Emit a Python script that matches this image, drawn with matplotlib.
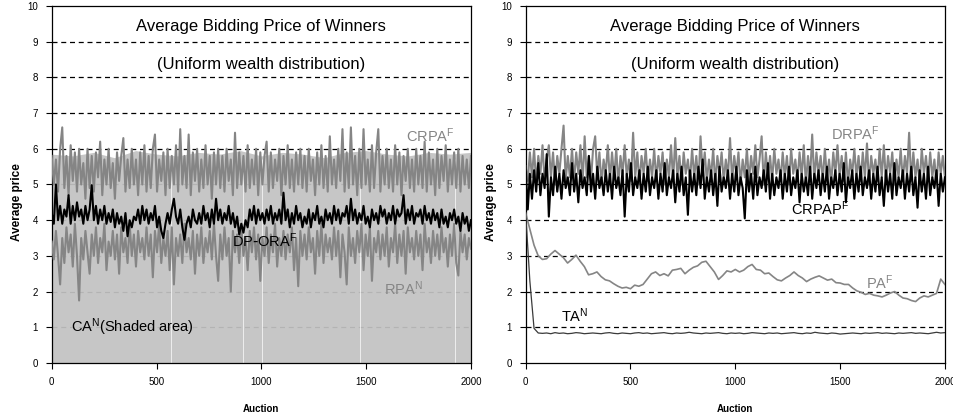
import matplotlib
matplotlib.use('Agg')
import matplotlib.pyplot as plt
import numpy as np

plt.rcParams['font.family'] = ['Liberation Sans', 'DejaVu Sans']

# ---- left panel: CA / CRPA / DP-ORA / RPA ----
ca_level = [5.85, 5.8, 5.9, 5.75, 5.95, 5.85, 5.8, 5.9, 5.85, 5.95, 5.8,
            5.9, 5.85, 5.75, 5.9, 5.95, 5.85, 5.8, 5.9, 5.85, 5.9]
ca_gaps = [570, 913, 1005, 1472, 1924]

crpa = [5.8, 5.0, 5.7, 4.8, 6.0, 6.6, 4.9, 5.8, 4.7, 6.1, 5.1, 5.9, 4.8, 6.0, 5.0, 5.6, 4.6, 6.0, 4.9, 5.8,
        4.8, 5.9, 5.2, 6.2, 4.7, 5.7, 5.0, 6.0, 4.9, 5.6, 4.6, 5.9, 5.1, 5.8, 6.3, 4.8, 5.7, 4.9, 6.0, 5.0,
        5.7, 4.7, 5.9, 5.0, 6.1, 4.8, 5.8, 4.9, 6.0, 6.4, 4.8, 5.7, 5.1, 5.9, 4.7, 6.0, 4.9, 5.8, 5.0, 6.1,
        4.8, 6.55, 5.0, 5.8, 4.9, 6.4, 4.7, 5.9, 5.1, 6.0, 4.8, 5.7, 4.9, 6.1, 5.0, 5.8, 4.6, 5.9, 5.0, 6.0,
        4.9, 5.8, 4.8, 6.0, 5.1, 5.7, 4.7, 6.45, 4.9, 5.9, 5.0, 5.8, 4.8, 6.1, 4.9, 5.7, 5.0, 6.0, 4.7, 5.9,
        5.0, 5.8, 6.2, 4.8, 5.9, 4.9, 5.7, 5.1, 6.0, 4.7, 5.8, 5.0, 6.1, 4.9, 5.7, 4.8, 5.9, 5.0, 6.0, 4.9,
        5.8, 4.8, 6.0, 5.1, 5.7, 4.7, 5.9, 5.0, 6.1, 4.9, 5.8, 4.8, 6.35, 5.0, 5.7, 4.9, 6.0, 5.1, 6.55, 4.8,
        5.9, 4.9, 6.6, 5.0, 5.8, 4.7, 6.0, 4.9, 6.55, 5.0, 5.7, 4.8, 6.1, 4.9, 5.9, 6.55, 4.8, 5.8, 5.0, 6.0,
        4.9, 5.7, 4.8, 6.1, 5.0, 5.9, 4.7, 5.8, 5.1, 6.0, 4.9, 5.7, 4.8, 6.0, 5.0, 5.8, 4.9, 6.2, 4.8, 5.9,
        5.0, 5.7, 4.7, 6.0, 4.9, 5.8, 5.1, 6.1, 4.8, 5.7, 5.0, 5.9, 4.9, 6.0, 4.8, 5.8, 5.0, 5.7, 4.9, 5.8]

dp_ora = [4.2, 3.9, 5.0, 4.0, 4.4, 3.9, 4.3, 4.1, 4.7, 3.9, 4.4, 4.0, 4.5, 4.1, 4.3, 3.9, 4.4, 4.0, 4.3, 4.98,
          4.0, 4.4, 3.9, 4.3, 4.0, 4.4, 3.9, 4.2, 3.95, 4.3, 3.8, 4.2, 3.9, 4.1, 3.7, 4.2, 3.55, 4.0, 3.8, 4.1,
          4.0, 4.3, 3.9, 4.4, 4.0, 4.3, 3.9, 4.2, 4.0, 4.4, 3.8, 4.1, 3.7, 3.5, 3.9, 4.2, 3.9, 4.3, 4.6, 4.1,
          3.9, 4.3, 3.8, 3.45, 3.9, 4.1, 3.8, 4.3, 4.0, 3.9, 4.2, 3.9, 4.4, 4.0, 4.2, 3.8, 4.3, 3.9, 4.6, 4.0,
          4.3, 3.9, 4.2, 4.0, 4.4, 3.9, 4.2, 3.8, 4.1, 3.6, 3.9, 3.65, 4.0, 3.8, 4.3, 4.0, 4.4, 3.9, 4.3, 4.0,
          4.2, 3.9, 4.3, 4.0, 4.4, 3.9, 4.2, 4.0, 4.3, 3.9, 4.77, 4.0, 4.3, 3.8, 4.2, 3.9, 4.4, 4.0, 4.2, 3.8,
          4.1, 3.9, 4.3, 3.8, 4.2, 4.0, 4.4, 3.9, 4.1, 3.8, 4.3, 4.0, 4.2, 3.9, 4.4, 4.0, 4.3, 3.9, 4.2, 4.1,
          4.4, 3.9, 4.6, 4.0, 4.3, 3.9, 4.2, 4.0, 4.4, 3.9, 4.1, 3.8, 4.3, 4.0, 4.2, 3.9, 4.4, 4.1, 4.3, 3.9,
          4.2, 4.0, 4.4, 3.9, 4.3, 4.1, 4.2, 4.7, 3.9, 4.3, 4.0, 4.4, 3.9, 4.2, 4.1, 4.3, 3.9, 4.4, 4.0, 4.2,
          3.9, 4.3, 4.0, 4.2, 3.8, 4.3, 3.9, 4.1, 3.8, 4.2, 4.0, 4.3, 3.9, 4.1, 3.7, 4.2, 3.9, 4.1, 3.7, 4.0]

rpa = [3.4, 2.9, 3.7, 3.0, 2.2, 3.5, 2.8, 3.8, 3.1, 3.6, 2.7, 3.9, 3.0, 1.75, 3.5, 2.9, 3.7, 3.1, 2.5, 3.6,
       3.0, 3.8, 2.8, 3.5, 3.1, 3.9, 2.6, 3.4, 3.0, 3.7, 2.9, 3.6, 2.5, 3.8, 3.1, 3.5, 2.8, 3.9, 3.0, 3.6,
       2.7, 3.7, 3.1, 3.5, 2.9, 3.8, 3.0, 3.6, 2.4, 3.7, 3.1, 3.9, 2.8, 3.5, 3.0, 3.7, 2.6, 3.8, 2.2, 3.5,
       3.0, 3.6, 2.8, 3.9, 3.1, 3.5, 2.9, 3.7, 2.5, 3.6, 3.0, 3.8, 2.8, 3.5, 3.1, 3.7, 2.9, 3.9, 3.0, 2.3,
       3.6, 2.9, 3.8, 3.0, 3.5, 2.0, 3.7, 3.1, 3.6, 2.8, 3.9, 3.0, 3.5, 2.6, 3.7, 3.1, 3.8, 2.9, 3.6, 2.3,
       3.5, 3.0, 3.8, 2.8, 3.6, 3.1, 3.9, 2.7, 3.5, 3.0, 3.7, 2.9, 3.6, 3.1, 3.8, 2.6, 3.5, 2.15, 3.7, 3.0,
       3.6, 2.9, 3.8, 3.1, 3.5, 2.5, 3.7, 3.0, 3.9, 2.8, 3.6, 3.1, 3.5, 2.9, 3.8, 3.0, 3.7, 2.4, 3.6, 3.1,
       2.2, 3.8, 3.0, 3.5, 2.8, 3.7, 3.1, 3.9, 2.6, 3.6, 3.0, 3.8, 2.3, 3.5, 3.1, 3.7, 2.9, 3.6, 3.0, 3.8,
       2.7, 3.5, 3.1, 3.9, 2.8, 3.6, 3.0, 3.7, 2.5, 3.8, 3.1, 3.5, 2.9, 3.7, 3.0, 3.6, 2.6, 3.9, 3.1, 3.5,
       2.8, 3.7, 3.0, 3.6, 2.9, 3.8, 3.1, 3.5, 2.7, 3.6, 3.0, 3.9, 2.8, 2.45, 3.7, 3.1, 3.6, 2.9, 3.5, 3.2]

# ---- right panel: DRPA / CRPAP / PA / TA ----
drpa = [5.5, 5.1, 5.9, 5.2, 6.0, 5.0, 5.8, 5.3, 6.1, 5.1, 5.7, 6.1, 5.2, 5.9, 5.0, 5.8, 5.3, 6.0, 6.65, 5.1,
        5.8, 5.2, 6.0, 5.1, 5.9, 5.3, 6.1, 5.0, 6.35, 5.2, 5.8, 5.1, 6.0, 6.35, 5.2, 5.9, 5.0, 5.7, 5.3, 6.1,
        5.1, 5.9, 5.2, 6.0, 5.0, 5.8, 5.3, 6.1, 5.2, 5.7, 5.1, 6.45, 5.2, 5.9, 5.0, 5.8, 5.3, 6.0, 5.1, 5.7,
        5.2, 6.0, 5.1, 5.8, 5.3, 5.9, 5.0, 5.7, 5.2, 6.1, 5.1, 6.3, 5.2, 5.8, 5.0, 5.9, 5.3, 5.7, 5.1, 6.0,
        5.2, 5.8, 5.0, 6.35, 5.3, 5.9, 5.1, 5.7, 5.2, 6.0, 5.0, 5.8, 5.3, 5.9, 5.1, 5.7, 5.2, 6.3, 5.1, 5.8,
        5.3, 5.9, 5.0, 5.7, 5.2, 6.0, 5.1, 5.8, 5.3, 6.1, 5.2, 5.7, 6.35, 5.0, 5.9, 5.2, 5.8, 5.1, 6.0, 5.3,
        5.7, 5.1, 5.9, 5.2, 5.8, 5.0, 6.0, 5.3, 5.7, 5.1, 5.9, 5.2, 6.1, 5.0, 5.8, 5.2, 6.4, 5.1, 5.9, 5.3,
        5.8, 5.1, 6.0, 5.2, 5.7, 5.0, 5.9, 5.3, 6.1, 5.2, 5.8, 5.1, 5.9, 5.0, 5.7, 5.3, 6.0, 5.2, 5.8, 5.1,
        5.9, 5.2, 6.15, 5.0, 5.8, 5.3, 5.7, 5.1, 6.0, 5.2, 6.1, 5.1, 5.8, 5.3, 5.9, 5.0, 5.7, 5.2, 6.0, 5.1,
        5.8, 5.3, 6.45, 5.1, 5.9, 5.2, 5.7, 5.0, 6.0, 5.3, 5.8, 5.1, 5.9, 5.2, 5.7, 5.0, 5.9, 5.3, 5.8, 5.2]

crpap = [5.5, 4.3, 5.3, 4.6, 5.4, 4.8, 5.6, 4.7, 5.3, 4.9, 5.85, 4.1, 5.2, 4.7, 5.5, 4.8, 5.3, 4.6, 5.4, 4.9,
         5.2, 4.7, 5.6, 4.8, 5.3, 4.5, 5.4, 4.9, 5.2, 4.7, 5.8, 4.8, 5.3, 4.6, 5.5, 4.9, 5.2, 4.7, 5.4, 4.8,
         5.3, 4.6, 5.5, 4.9, 5.2, 4.7, 5.4, 4.1, 5.3, 4.8, 5.6, 4.7, 5.2, 4.9, 5.4, 4.6, 5.3, 4.8, 5.5, 4.7,
         5.2, 4.9, 5.4, 4.6, 5.3, 4.8, 5.6, 4.7, 5.2, 4.9, 5.4, 4.5, 5.3, 4.8, 5.5, 4.7, 5.2, 4.15, 5.4, 4.8,
         5.3, 4.7, 5.5, 4.9, 5.7, 4.6, 5.2, 4.8, 5.4, 4.7, 5.3, 4.4, 5.5, 4.8, 5.2, 4.9, 5.4, 4.6, 5.3, 4.8,
         5.5, 4.7, 5.2, 4.9, 4.05, 5.4, 4.8, 5.3, 4.6, 5.5, 4.7, 5.2, 4.9, 5.4, 4.8, 5.6, 4.6, 5.3, 4.7, 5.2,
         4.9, 5.4, 4.6, 5.3, 4.8, 5.5, 4.7, 5.2, 4.9, 5.4, 4.5, 5.3, 4.8, 5.2, 4.7, 5.5, 4.6, 5.3, 4.9, 5.4,
         4.7, 5.3, 4.8, 5.5, 4.6, 5.2, 4.9, 5.4, 4.7, 5.3, 4.8, 5.6, 4.5, 5.2, 4.9, 5.4, 4.6, 5.3, 4.8, 5.5,
         4.7, 5.2, 4.9, 5.4, 4.6, 5.3, 4.8, 5.5, 4.7, 5.2, 4.4, 5.4, 4.8, 5.3, 4.6, 5.6, 4.7, 5.2, 4.9, 5.4,
         4.6, 5.3, 4.8, 5.5, 4.7, 5.2, 4.35, 5.4, 4.8, 5.3, 4.6, 5.5, 4.7, 5.2, 4.9, 5.4, 4.4, 5.3, 4.8, 5.2]

# sampled every 20 auctions
pa = [4.2, 3.75, 3.3, 3.0, 2.9, 2.92, 3.05, 3.15, 3.05, 2.95, 2.8, 2.9, 3.02, 2.85, 2.7, 2.47, 2.5,
      2.55, 2.42, 2.33, 2.3, 2.22, 2.15, 2.1, 2.12, 2.08, 2.18, 2.15, 2.2, 2.35, 2.5, 2.55, 2.45, 2.5,
      2.44, 2.6, 2.62, 2.65, 2.5, 2.6, 2.68, 2.72, 2.82, 2.85, 2.7, 2.55, 2.34, 2.45, 2.58, 2.55, 2.62,
      2.55, 2.6, 2.7, 2.76, 2.62, 2.6, 2.5, 2.52, 2.42, 2.33, 2.3, 2.38, 2.45, 2.55, 2.45, 2.38, 2.28,
      2.35, 2.4, 2.44, 2.38, 2.32, 2.35, 2.25, 2.24, 2.2, 2.2, 2.1, 2.02, 1.98, 1.92, 1.95, 1.9, 1.88,
      1.85, 1.9, 1.96, 2.0, 1.9, 1.82, 1.8, 1.75, 1.72, 1.82, 1.88, 1.85, 1.9, 1.95, 2.35, 2.2]
ta = [4.2, 2.3, 0.97, 0.84, 0.83, 0.84, 0.82, 0.85, 0.83, 0.84, 0.82, 0.83, 0.85, 0.84, 0.82, 0.83, 0.84,
      0.83, 0.82, 0.84, 0.85, 0.83, 0.82, 0.84, 0.83, 0.82, 0.84, 0.85, 0.83, 0.84, 0.82, 0.83, 0.84,
      0.85, 0.83, 0.82, 0.84, 0.83, 0.84, 0.86, 0.84, 0.83, 0.82, 0.84, 0.83, 0.84, 0.85, 0.83, 0.82,
      0.84, 0.83, 0.84, 0.82, 0.83, 0.85, 0.84, 0.83, 0.82, 0.84, 0.83, 0.84, 0.82, 0.83, 0.84, 0.85,
      0.83, 0.82, 0.84, 0.83, 0.86, 0.84, 0.83, 0.82, 0.84, 0.83, 0.81, 0.82, 0.83, 0.84, 0.83, 0.82,
      0.84, 0.83, 0.84, 0.85, 0.83, 0.84, 0.83, 0.82, 0.84, 0.83, 0.84, 0.85, 0.83, 0.84, 0.83, 0.82,
      0.84, 0.86, 0.84, 0.85]

GRAY = '#858585'
LIGHT = '#c2c2c2'


def auctions(vals):
    return np.linspace(0, 2000, len(vals))


def setup(ax):
    ax.set_xlim(0, 2000)
    ax.set_ylim(0, 10)
    ax.set_xticks([0, 500, 1000, 1500, 2000])
    ax.set_yticks(range(11))
    for y in range(1, 10):
        ax.axhline(y, color='black', lw=0.9, ls=(0, (4, 3)), zorder=1)
    ax.tick_params(direction='out', length=4, width=0.8, labelsize=7, pad=6)
    for s in ax.spines.values():
        s.set_linewidth(0.9)
    ax.set_xlabel('Auction', fontsize=7, fontweight='bold', labelpad=12)
    ax.set_ylabel('Average price', fontsize=8.5, fontweight='bold')
    ax.yaxis.set_label_coords(-0.068, 0.45)
    ax.text(1000, 9.42, 'Average Bidding Price of Winners', fontsize=12, ha='center', va='center', zorder=6)
    ax.text(1000, 8.37, '(Uniform wealth distribution)', fontsize=12, ha='center', va='center', zorder=6)


fig = plt.figure(figsize=(9.54, 4.19), dpi=100)
ax1 = fig.add_axes([0.0542, 0.1337, 0.4395, 0.852])
ax2 = fig.add_axes([0.551, 0.1337, 0.4395, 0.852])

# left
setup(ax1)
ax1.fill_between(auctions(ca_level), 0, ca_level, color=LIGHT, alpha=0.93, lw=0, zorder=2)
ax1.vlines(ca_gaps, 0, 5.7, color='white', lw=0.6, alpha=0.8, zorder=2)
ax1.plot(auctions(crpa), crpa, color=GRAY, lw=1.5, zorder=3)
ax1.plot(auctions(rpa), rpa, color=GRAY, lw=1.5, zorder=3)
ax1.plot(auctions(dp_ora), dp_ora, color='black', lw=1.5, zorder=4)
ax1.text(1690, 6.36, r'$\mathregular{CRPA^F}$', color=GRAY, fontsize=10.5, va='center', zorder=6)
ax1.text(860, 3.42, r'$\mathregular{DP\text{-}ORA^F}$', color='black', fontsize=10.5, va='center', zorder=6)
ax1.text(1585, 2.07, r'$\mathregular{RPA^N}$', color=GRAY, fontsize=10.5, va='center', zorder=6)
ax1.text(90, 0.99, r'$\mathregular{CA^N}$(Shaded area)', color='black', fontsize=10.5, va='center', zorder=6)

# right
setup(ax2)
ax2.plot(auctions(drpa), drpa, color=GRAY, lw=1.5, zorder=3)
ax2.plot(auctions(crpap), crpap, color='black', lw=1.5, zorder=4)
ax2.plot(auctions(pa), pa, color=GRAY, lw=1.2, zorder=3)
ax2.plot(auctions(ta), ta, color='#3a3a3a', lw=0.9, zorder=3)
ax2.text(1458, 6.41, r'$\mathregular{DRPA^F}$', color=GRAY, fontsize=10.5, va='center', zorder=6)
ax2.text(1265, 4.31, r'$\mathregular{CRPAP^F}$', color='black', fontsize=10.5, va='center', zorder=6)
ax2.text(1622, 2.24, r'$\mathregular{PA^F}$', color=GRAY, fontsize=10.5, va='center', zorder=6)
ax2.text(168, 1.32, r'$\mathregular{TA^N}$', color='black', fontsize=10.5, va='center', zorder=6)

fig.savefig('out.png', dpi=100)
